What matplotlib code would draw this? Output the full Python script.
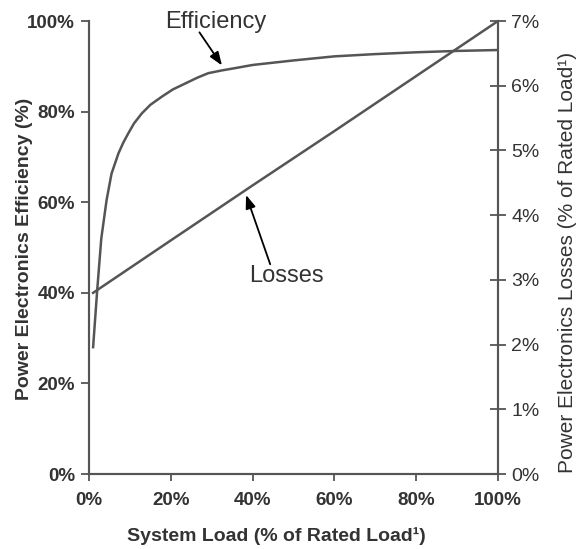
import matplotlib
matplotlib.use('Agg')
import matplotlib.pyplot as plt
from matplotlib.ticker import FuncFormatter

plt.rcParams['font.family'] = ['Liberation Sans', 'DejaVu Sans']

# data
load_eff = [1, 2, 3, 4.3, 5.5, 7.2, 8.4, 9.6, 11, 12.9, 15, 17.8, 20.5, 23.5, 26.5,
            29.2, 32.5, 35.7, 40, 45, 50, 60, 70, 80, 90, 100]
efficiency = [28, 40.6, 52, 60.5, 66.3, 70.8, 73.2, 75.2, 77.4, 79.6, 81.5, 83.3, 84.9,
              86.2, 87.5, 88.5, 89.1, 89.6, 90.3, 90.8, 91.3, 92.2, 92.7, 93.1, 93.4, 93.6]

load_loss = [1, 20, 40, 60, 80, 100]
losses = [2.80, 3.61, 4.46, 5.30, 6.15, 7.0]

x_ticks = [0, 20, 40, 60, 80, 100]
eff_ticks = [0, 20, 40, 60, 80, 100]
loss_ticks = [0, 1, 2, 3, 4, 5, 6, 7]

lc = '#555555'
tc = '#333333'
pct = FuncFormatter(lambda v, p: '%d%%' % v)

fig = plt.figure(figsize=(5.83, 5.49), dpi=100)
ax = fig.add_axes([0.1527, 0.1366, 0.7015, 0.8251])
ax2 = ax.twinx()

ax.plot(load_eff, efficiency, color=lc, lw=1.8)
ax2.plot(load_loss, losses, color=lc, lw=1.8)

ax.set_xlim(0, 100)
ax.set_ylim(0, 100)
ax2.set_ylim(0, 7)
ax.set_xticks(x_ticks)
ax.set_yticks(eff_ticks)
ax2.set_yticks(loss_ticks)
ax.xaxis.set_major_formatter(pct)
ax.yaxis.set_major_formatter(pct)
ax2.yaxis.set_major_formatter(pct)

for a in (ax, ax2):
    a.spines['top'].set_visible(False)
    for s in a.spines.values():
        s.set_color(lc)
        s.set_linewidth(1.5)

ax.tick_params(axis='y', direction='out', length=6, width=1.3, color=lc,
               labelsize=13.5, labelcolor=tc, pad=4)
ax.tick_params(axis='x', direction='out', length=5, width=1.3, color=lc,
               labelsize=13.5, labelcolor=tc, pad=8)
ax2.tick_params(axis='y', direction='inout', length=11, width=1.3, color=lc,
                labelsize=14, labelcolor=tc, pad=4)
for lab in ax.get_xticklabels() + ax.get_yticklabels():
    lab.set_fontweight('bold')

ax.set_xlabel('System Load (% of Rated Load\u00b9)', fontsize=14, fontweight='bold',
              color=tc)
ax.xaxis.set_label_coords(0.457, -0.118)
ax.set_ylabel('Power Electronics Efficiency (%)', fontsize=14, fontweight='bold',
              color=tc)
ax.yaxis.set_label_coords(-0.137, 0.497)
ax2.set_ylabel('Power Electronics Losses (% of Rated Load\u00b9)', fontsize=15,
               color=tc, rotation=90)
ax2.yaxis.set_label_coords(1.147, 0.468)

ax.text(31, 99.8, 'Efficiency', fontsize=17, color=tc, ha='center', va='center')
ax.annotate('', xy=(32.5, 90.2), xytext=(27, 97.5),
            arrowprops=dict(arrowstyle='-|>,head_length=0.8,head_width=0.3',
                            color='black', lw=1.3, shrinkA=0, shrinkB=0))
ax.text(48.2, 43.7, 'Losses', fontsize=17, color=tc, ha='center', va='center')
ax.annotate('', xy=(38.4, 61.6), xytext=(44.3, 46.3),
            arrowprops=dict(arrowstyle='-|>,head_length=0.8,head_width=0.3',
                            color='black', lw=1.3, shrinkA=0, shrinkB=0))

fig.savefig('out.png', dpi=100)
